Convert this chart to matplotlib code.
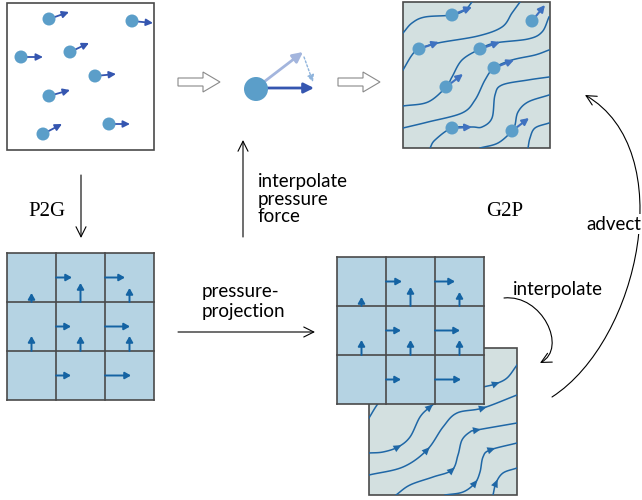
import numpy as np
import matplotlib.pyplot as plt
from matplotlib.patches import Circle, Rectangle, Polygon, FancyArrowPatch
from matplotlib.path import Path

# ─────────────────────────────────────────────
# Data (pixel coordinates of the 642x500 canvas)
# ─────────────────────────────────────────────
# particles (top-left panel): centre and velocity tip
p1_centers = [(49, 19), (132, 21), (21, 57), (70, 52), (95, 76), (49, 96), (43, 134), (109, 124)]
p1_tips    = [(69, 12), (153, 23), (43, 57), (89, 43), (116, 74), (70, 90), (62, 124), (130, 124)]

# particles (top-right panel) after G2P
p2_centers = [(452, 15), (532, 21), (419, 49), (480, 49), (494, 68), (446, 87), (452, 128), (512, 131)]
p2_tips    = [(472, 7), (545, 5), (439, 42), (500, 42), (514, 60), (463, 74), (472, 127), (529, 118)]

# streamlines (top-right panel)
top_lines = [
    [(403, 33), (412, 23), (425, 17), (452, 15), (465, 10), (472, 2)],
    [(403, 70), (412, 55), (419, 49), (438, 43), (478, 36), (502, 27), (512, 13), (520, 2)],
    [(403, 106), (428, 102), (446, 87), (452, 77), (462, 60), (480, 49), (495, 43), (528, 39), (542, 32), (549, 17)],
    [(403, 128), (428, 122), (462, 113), (475, 100), (485, 80), (494, 68), (512, 60), (535, 55), (549, 50)],
    [(430, 148), (435, 140), (452, 128), (472, 127), (482, 127), (492, 118), (495, 95), (502, 85), (528, 80), (549, 77)],
    [(480, 148), (498, 143), (512, 131), (515, 125), (518, 112), (528, 102), (549, 95)],
    [(528, 148), (530, 138), (535, 128), (549, 123)],
]

# streamlines (lower panel) and where their arrow heads sit
low_lines = [
    [(369, 418), (377, 405), (386, 394), (396, 386)],
    [(440, 396), (460, 392), (483, 387), (495, 384), (507, 378), (517, 365)],
    [(369, 453), (383, 452), (398, 447), (410, 437), (420, 417), (430, 407), (442, 398)],
    [(369, 475), (403, 467), (427, 450), (443, 427), (457, 413), (483, 408), (517, 395)],
    [(396, 495), (410, 485), (433, 477), (452, 470), (458, 455), (462, 440), (470, 432), (477, 430), (517, 423)],
    [(445, 495), (463, 492), (475, 483), (480, 472), (483, 457), (490, 450), (517, 443)],
    [(493, 495), (496, 483), (503, 473), (517, 468)],
]
low_heads = [[], [(496, 383)], [(398, 447), (430, 407)], [(427, 450), (483, 408)],
             [(452, 470), (477, 430)], [(475, 483), (492, 450)], [(496, 483)]]

# staggered grid velocities (pixels): vertical on bottom faces, horizontal on left faces
v_up    = [[9, 19, 14], [15, 15, 15]]
u_right = [[16, 20], [15, 25], [15, 26]]

# ─────────────────────────────────────────────
# Colours
# ─────────────────────────────────────────────
PART   = "#5b9ec9"
PARR   = "#3556b0"
STREAM = "#1f67a6"
GRIDF  = "#b5d3e3"
GRIDA  = "#1463a3"
FLOWF  = "#d3e0e0"
EDGE   = "#4a4a4a"

fig = plt.figure(figsize=(6.42, 5.0), dpi=100)
ax = fig.add_axes([0, 0, 1, 1])
ax.set_xlim(0, 642)
ax.set_ylim(500, 0)
ax.axis("off")

SANS = ["Lato", "DejaVu Sans"]
SERIF = ["Liberation Serif", "DejaVu Serif"]


def smooth(pts, n=12):
    """Catmull-Rom through the given points."""
    p = np.asarray(pts, float)
    p = np.vstack([2 * p[0] - p[1], p, 2 * p[-1] - p[-2]])
    out = []
    for i in range(1, len(p) - 2):
        p0, p1, p2, p3 = p[i - 1], p[i], p[i + 1], p[i + 2]
        for t in np.linspace(0, 1, n, endpoint=False):
            out.append(0.5 * ((2 * p1) + (-p0 + p2) * t
                              + (2 * p0 - 5 * p1 + 4 * p2 - p3) * t ** 2
                              + (-p0 + 3 * p1 - 3 * p2 + p3) * t ** 3))
    out.append(p[-2])
    return np.array(out)


def arrow(a, b, color, lw=1.3, hl=0.45, hw=0.22, ms=10, z=3, ls="-", style="-|>"):
    arr = FancyArrowPatch(a, b, arrowstyle=f"{style},head_length={hl},head_width={hw}",
                          mutation_scale=ms, color=color, lw=lw, linestyle=ls,
                          shrinkA=0, shrinkB=0, zorder=z)
    ax.add_patch(arr)
    return arr


def head(pt, d, color, z, L=8.0, W=3.6):
    d = d / np.hypot(*d)
    nrm = np.array([-d[1], d[0]])
    tip = np.array(pt) + d * L * 0.5
    base = np.array(pt) - d * L * 0.5
    ax.add_patch(Polygon([tip, base + nrm * W, base - nrm * W], closed=True,
                         color=color, lw=0, zorder=z))


def hollow_arrow(x0, x1, xh, yc):
    pts = [(x0, yc - 4), (xh, yc - 4), (xh, yc - 10), (x1, yc), (xh, yc + 10), (xh, yc + 4), (x0, yc + 4)]
    ax.add_patch(Polygon(pts, closed=True, fc="white", ec="#8a8a8a", lw=0.8, zorder=2))


# ─────────────────────────────────────────────
# Panel 1: particles
# ─────────────────────────────────────────────
ax.add_patch(Rectangle((7, 3), 147, 147, fc="white", ec=EDGE, lw=1.2, zorder=1))
for c, t in zip(p1_centers, p1_tips):
    arrow(c, t, PARR, lw=1.3, hl=0.4, hw=0.2, z=3)
    ax.add_patch(Circle(c, 6.5, fc=PART, ec="none", zorder=4))

# ─────────────────────────────────────────────
# Middle: single particle update
# ─────────────────────────────────────────────
hollow_arrow(178, 220, 203, 82)
hollow_arrow(338, 380, 363, 82)
arrow((256, 88), (303, 52), "#a3b5dd", lw=2.0, hl=0.6, hw=0.3, z=3)
arrow((256, 88), (314, 88), "#3556b0", lw=2.0, hl=0.6, hw=0.3, z=3)
arrow((304, 57), (313, 82), "#8fb4dc", lw=1.0, hl=0.4, hw=0.2, z=3, ls=(0, (1.5, 1.5)))
ax.add_patch(Circle((256, 89), 12, fc=PART, ec="none", zorder=4))

# ─────────────────────────────────────────────
# Panel 2: advected particles on the flow
# ─────────────────────────────────────────────
box2 = Rectangle((403, 2), 147, 146, fc=FLOWF, ec=EDGE, lw=1.2, zorder=1)
ax.add_patch(box2)
for ln in top_lines:
    s = smooth(ln)
    l, = ax.plot(s[:, 0], s[:, 1], color=STREAM, lw=1.1, zorder=2)
    l.set_clip_path(box2)
for c, t in zip(p2_centers, p2_tips):
    arrow(c, t, "#3f72c0", lw=1.5, hl=0.4, hw=0.2, z=3)
    ax.add_patch(Circle(c, 6.5, fc=PART, ec="none", zorder=4))

# ─────────────────────────────────────────────
# Grids (P2G result and projected)
# ─────────────────────────────────────────────
def grid(x0, y0, size=147, zbase=5):
    cell = size / 3
    ax.add_patch(Rectangle((x0, y0), size, size, fc=GRIDF, ec="none", zorder=zbase))
    for k in range(4):
        ax.plot([x0 + k * cell] * 2, [y0, y0 + size], color=EDGE, lw=1.2, zorder=zbase + 2)
        ax.plot([x0, x0 + size], [y0 + k * cell] * 2, color=EDGE, lw=1.2, zorder=zbase + 2)
    for r, row in enumerate(v_up):
        for c, v in enumerate(row):
            xb, yb = x0 + (c + 0.5) * cell, y0 + (r + 1) * cell
            arrow((xb, yb), (xb, yb - v), GRIDA, lw=1.4, hl=0.35, hw=0.2, z=zbase + 3)
    for r, row in enumerate(u_right):
        for c, u in enumerate(row):
            xb, yb = x0 + (c + 1) * cell, y0 + (r + 0.5) * cell
            arrow((xb, yb), (xb + u, yb), GRIDA, lw=1.4, hl=0.35, hw=0.2, z=zbase + 3)


grid(7, 253)

# lower flow panel (behind the projected grid)
box3 = Rectangle((369, 348), 148, 147, fc=FLOWF, ec=EDGE, lw=1.2, zorder=2)
ax.add_patch(box3)
for ln, hs in zip(low_lines, low_heads):
    s = smooth(ln)
    l, = ax.plot(s[:, 0], s[:, 1], color=STREAM, lw=1.1, zorder=3)
    l.set_clip_path(box3)
    for h in hs:
        i = int(np.argmin(np.hypot(s[:, 0] - h[0], s[:, 1] - h[1])))
        i = min(max(i, 1), len(s) - 2)
        head(s[i], s[i + 1] - s[i - 1], STREAM, z=4)

grid(337, 257, zbase=6)

# ─────────────────────────────────────────────
# Process arrows
# ─────────────────────────────────────────────
thin = dict(lw=0.8, hl=0.9, hw=0.45, ms=8, style="->")
arrow((81, 175), (81, 238), "black", **thin)
arrow((243, 237), (243, 140), "black", **thin)
arrow((178, 332), (315, 332), "black", **thin)

curve_i = Path([(504, 298), (542, 294), (568, 348), (540, 363)],
               [Path.MOVETO, Path.CURVE4, Path.CURVE4, Path.CURVE4])
ax.add_patch(FancyArrowPatch(path=curve_i, arrowstyle="->,head_length=0.9,head_width=0.45",
                             mutation_scale=8, color="black", lw=0.8, zorder=3))
curve_a = Path([(552, 397), (640, 340), (680, 150), (585, 95)],
               [Path.MOVETO, Path.CURVE4, Path.CURVE4, Path.CURVE4])
ax.add_patch(FancyArrowPatch(path=curve_a, arrowstyle="->,head_length=0.9,head_width=0.45",
                             mutation_scale=8, color="black", lw=0.8, zorder=3))

# ─────────────────────────────────────────────
# Labels
# ─────────────────────────────────────────────
ax.text(28, 212, "P2G", fontsize=15, family=SERIF, ha="left", va="center")
ax.text(486, 212, "G2P", fontsize=15, family=SERIF, ha="left", va="center")
for txt, y in zip(["interpolate", "pressure", "force"], [181, 199, 217]):
    ax.text(258, y, txt, fontsize=13.5, family=SANS, ha="left", va="center")
for txt, y in zip(["pressure-", "projection"], [291, 311]):
    ax.text(202, y, txt, fontsize=13.5, family=SANS, ha="left", va="center")
ax.text(513, 290, "interpolate", fontsize=13.5, family=SANS, ha="left", va="center")
ax.text(586, 224, "advect", fontsize=13.5, family=SANS, ha="left", va="center",
        bbox=dict(fc="white", ec="none", pad=1), zorder=5)

plt.savefig("out.png", dpi=100)
